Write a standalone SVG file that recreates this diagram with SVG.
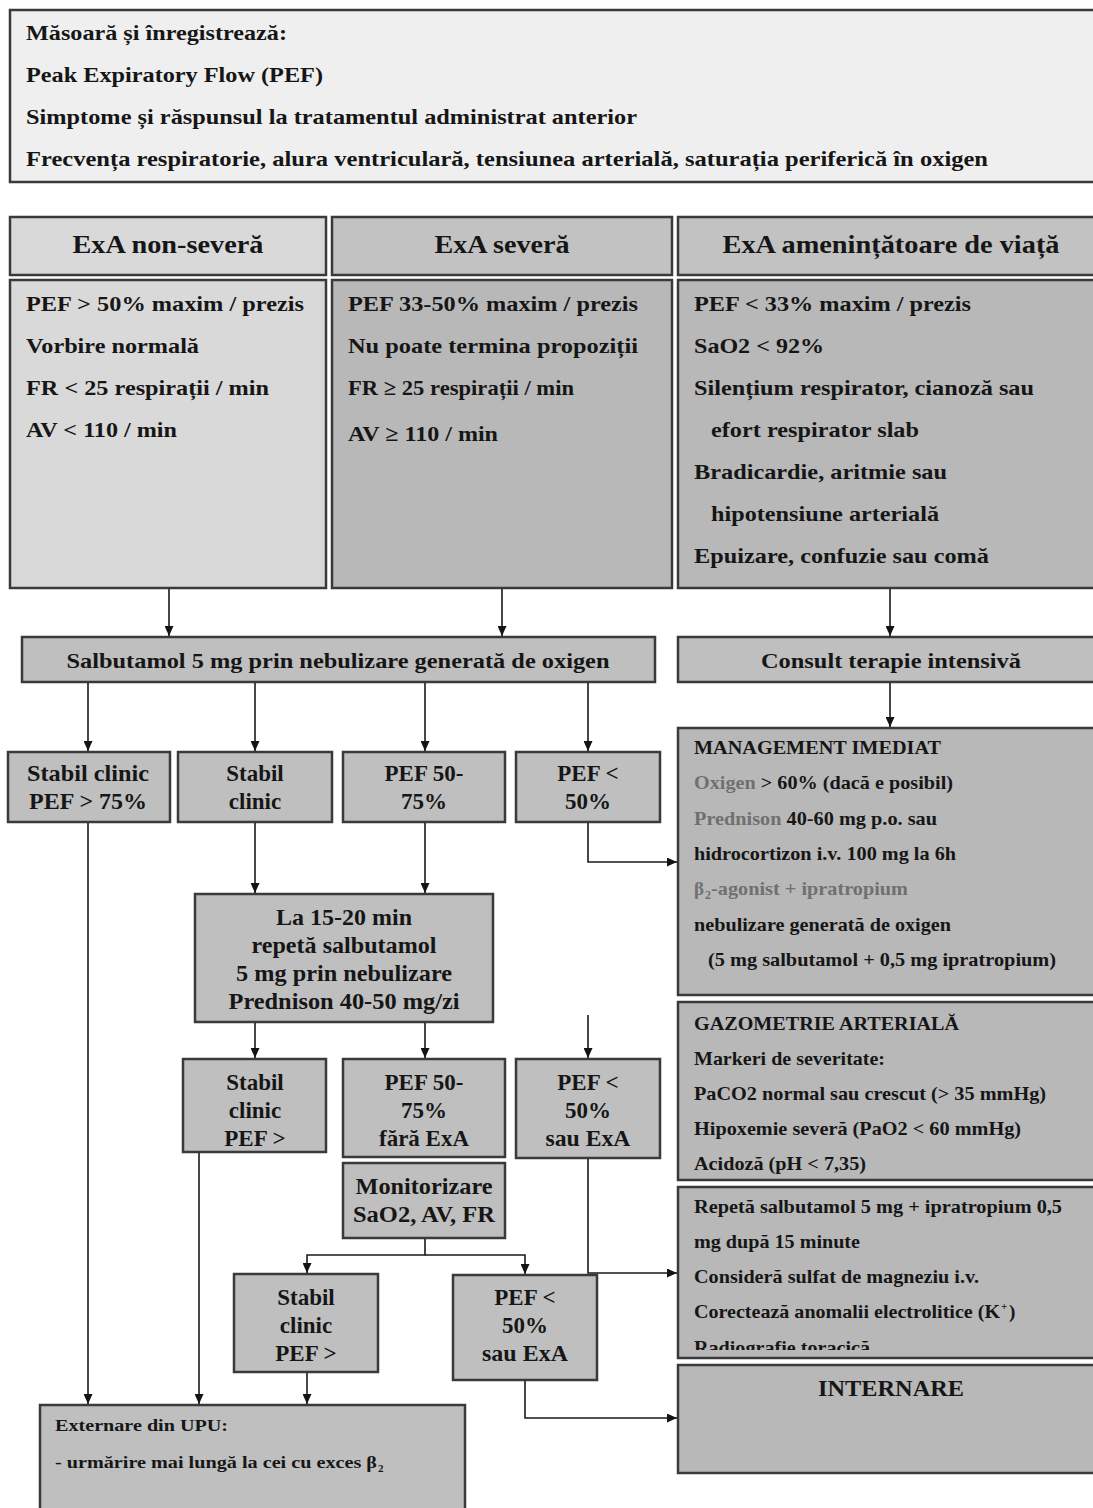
<svg xmlns="http://www.w3.org/2000/svg" width="1093" height="1508" viewBox="0 0 1093 1508">
<defs>
<marker id="ah" markerWidth="10" markerHeight="9" refX="10" refY="4.5" orient="auto" markerUnits="userSpaceOnUse">
<path d="M0,0 L10,4.5 L0,9 z" fill="#141414"/>
</marker>
<clipPath id="clipRep"><rect x="678" y="1187" width="420" height="163"/></clipPath>
</defs>
<style>
.box{stroke:#3a3a3a;stroke-width:2.5}
.t{font-family:"Liberation Serif","Times New Roman",serif;font-weight:bold;fill:#161616}
.f17{font-size:17px}
.f19{font-size:19px}
.f21{font-size:21px}
.f22{font-size:22px}
.f23{font-size:23px}
.f26{font-size:26px}
.c{text-anchor:middle}
.g{fill:#707070}
.l1{fill:#efefef}
.l2{fill:#d9d9d9}
.l3{fill:#c2c2c2}
.l4{fill:#b8b8b8}
.l5{fill:#bfbfbf}
#connectors path{fill:none;stroke:#1a1a1a;stroke-width:1.6}
</style>
<rect width="1093" height="1508" fill="#ffffff"/>

<g id="measure">
<rect class="box l1" x="10" y="10" width="1090" height="172"/>
<text class="t f21" x="26" y="40" textLength="261" lengthAdjust="spacingAndGlyphs">Măsoară și înregistrează:</text>
<text class="t f21" x="26" y="82" textLength="297" lengthAdjust="spacingAndGlyphs">Peak Expiratory Flow (PEF)</text>
<text class="t f21" x="26" y="124" textLength="611" lengthAdjust="spacingAndGlyphs">Simptome și răspunsul la tratamentul administrat anterior</text>
<text class="t f21" x="26" y="166" textLength="962" lengthAdjust="spacingAndGlyphs">Frecvența respiratorie,  alura ventriculară, tensiunea arterială, saturația periferică în oxigen</text>
</g>

<g id="hdr-nonsevere">
<rect class="box l2" x="10" y="217" width="316" height="58"/>
<text class="t f26 c" x="168" y="253" textLength="191" lengthAdjust="spacingAndGlyphs">ExA non-severă</text>
</g>
<g id="hdr-severe">
<rect class="box l3" x="332" y="217" width="340" height="58"/>
<text class="t f26 c" x="502" y="253" textLength="135" lengthAdjust="spacingAndGlyphs">ExA severă</text>
</g>
<g id="hdr-life">
<rect class="box l3" x="678" y="217" width="420" height="58"/>
<text class="t f26 c" x="891" y="253" textLength="337" lengthAdjust="spacingAndGlyphs">ExA amenințătoare de viață</text>
</g>

<g id="body-nonsevere">
<rect class="box l2" x="10" y="280" width="316" height="308"/>
<text class="t f22" x="26" y="311" textLength="278" lengthAdjust="spacingAndGlyphs">PEF &gt; 50% maxim / prezis</text>
<text class="t f22" x="26" y="353" textLength="173" lengthAdjust="spacingAndGlyphs">Vorbire normală</text>
<text class="t f22" x="26" y="395" textLength="243" lengthAdjust="spacingAndGlyphs">FR &lt; 25 respirații / min</text>
<text class="t f22" x="26" y="437" textLength="151" lengthAdjust="spacingAndGlyphs">AV &lt; 110 / min</text>
</g>
<g id="body-severe">
<rect class="box l4" x="332" y="280" width="340" height="308"/>
<text class="t f22" x="348" y="311" textLength="290" lengthAdjust="spacingAndGlyphs">PEF 33-50% maxim / prezis</text>
<text class="t f22" x="348" y="353" textLength="290" lengthAdjust="spacingAndGlyphs">Nu poate termina propoziții</text>
<text class="t f22" x="348" y="395" textLength="226" lengthAdjust="spacingAndGlyphs">FR ≥ 25 respirații / min</text>
<text class="t f22" x="348" y="441" textLength="150" lengthAdjust="spacingAndGlyphs">AV ≥ 110 / min</text>
</g>
<g id="body-life">
<rect class="box l4" x="678" y="280" width="420" height="308"/>
<text class="t f22" x="694" y="311" textLength="277" lengthAdjust="spacingAndGlyphs">PEF &lt; 33% maxim / prezis</text>
<text class="t f22" x="694" y="353" textLength="130" lengthAdjust="spacingAndGlyphs">SaO2 &lt; 92%</text>
<text class="t f22" x="694" y="395" textLength="340" lengthAdjust="spacingAndGlyphs">Silențium respirator, cianoză sau</text>
<text class="t f22" x="711" y="437" textLength="208" lengthAdjust="spacingAndGlyphs">efort respirator slab</text>
<text class="t f22" x="694" y="479" textLength="253" lengthAdjust="spacingAndGlyphs">Bradicardie, aritmie sau</text>
<text class="t f22" x="711" y="521" textLength="228" lengthAdjust="spacingAndGlyphs">hipotensiune arterială</text>
<text class="t f22" x="694" y="563" textLength="295" lengthAdjust="spacingAndGlyphs">Epuizare, confuzie sau comă</text>
</g>

<g id="salbutamol">
<rect class="box l5" x="22" y="637" width="633" height="45"/>
<text class="t f22 c" x="338" y="668" textLength="543" lengthAdjust="spacingAndGlyphs">Salbutamol 5 mg prin nebulizare generată de oxigen</text>
</g>
<g id="consult">
<rect class="box l5" x="678" y="637" width="420" height="45"/>
<text class="t f22 c" x="891" y="668" textLength="260" lengthAdjust="spacingAndGlyphs">Consult terapie intensivă</text>
</g>

<g id="r1-stable75">
<rect class="box l5" x="8" y="752" width="162" height="70"/>
<text class="t f23 c" x="88" y="781" textLength="122" lengthAdjust="spacingAndGlyphs">Stabil clinic</text>
<text class="t f23 c" x="88" y="809" textLength="118" lengthAdjust="spacingAndGlyphs">PEF &gt; 75%</text>
</g>
<g id="r1-stable">
<rect class="box l5" x="178" y="752" width="154" height="70"/>
<text class="t f23 c" x="255" y="781">Stabil</text>
<text class="t f23 c" x="255" y="809">clinic</text>
</g>
<g id="r1-pef5075">
<rect class="box l5" x="343" y="752" width="162" height="70"/>
<text class="t f23 c" x="424" y="781">PEF 50-</text>
<text class="t f23 c" x="424" y="809">75%</text>
</g>
<g id="r1-pef50">
<rect class="box l5" x="516" y="752" width="144" height="70"/>
<text class="t f23 c" x="588" y="781">PEF &lt;</text>
<text class="t f23 c" x="588" y="809">50%</text>
</g>

<g id="management">
<rect class="box l4" x="678" y="728" width="420" height="267"/>
<text class="t f19" x="694" y="754" textLength="247" lengthAdjust="spacingAndGlyphs">MANAGEMENT IMEDIAT</text>
<text class="t f19" x="694" y="789" textLength="259" lengthAdjust="spacingAndGlyphs"><tspan class="g">Oxigen</tspan> &gt; 60% (dacă e posibil)</text>
<text class="t f19" x="694" y="825" textLength="243" lengthAdjust="spacingAndGlyphs"><tspan class="g">Prednison</tspan> 40-60 mg p.o. sau</text>
<text class="t f19" x="694" y="860" textLength="262" lengthAdjust="spacingAndGlyphs">hidrocortizon i.v. 100 mg la 6h</text>
<text class="t f19 g" x="694" y="895">β</text>
<text class="t g" font-size="12" x="705" y="899">2</text>
<text class="t f19 g" x="711" y="895" textLength="197" lengthAdjust="spacingAndGlyphs">-agonist + ipratropium</text>
<text class="t f19" x="694" y="931" textLength="257" lengthAdjust="spacingAndGlyphs">nebulizare generată de oxigen</text>
<text class="t f19" x="708" y="966" textLength="348" lengthAdjust="spacingAndGlyphs">(5 mg salbutamol + 0,5 mg ipratropium)</text>
</g>

<g id="repeat">
<rect class="box l5" x="195" y="894" width="298" height="128"/>
<text class="t f23 c" x="344" y="925" textLength="136" lengthAdjust="spacingAndGlyphs">La 15-20 min</text>
<text class="t f23 c" x="344" y="953" textLength="185" lengthAdjust="spacingAndGlyphs">repetă salbutamol</text>
<text class="t f23 c" x="344" y="981" textLength="216" lengthAdjust="spacingAndGlyphs">5 mg prin nebulizare</text>
<text class="t f23 c" x="344" y="1009" textLength="231" lengthAdjust="spacingAndGlyphs">Prednison 40-50 mg/zi</text>
</g>

<g id="r2-stable">
<rect class="box l5" x="183" y="1059" width="143" height="93"/>
<text class="t f23 c" x="255" y="1090">Stabil</text>
<text class="t f23 c" x="255" y="1118">clinic</text>
<text class="t f23 c" x="255" y="1146">PEF &gt;</text>
</g>
<g id="r2-pef5075">
<rect class="box l5" x="343" y="1059" width="162" height="98"/>
<text class="t f23 c" x="424" y="1090">PEF 50-</text>
<text class="t f23 c" x="424" y="1118">75%</text>
<text class="t f23 c" x="424" y="1146" textLength="90" lengthAdjust="spacingAndGlyphs">fără ExA</text>
</g>
<g id="r2-pef50">
<rect class="box l5" x="516" y="1059" width="144" height="99"/>
<text class="t f23 c" x="588" y="1090">PEF &lt;</text>
<text class="t f23 c" x="588" y="1118">50%</text>
<text class="t f23 c" x="588" y="1146" textLength="85" lengthAdjust="spacingAndGlyphs">sau ExA</text>
</g>
<g id="monitor">
<rect class="box l5" x="343" y="1163" width="162" height="75"/>
<text class="t f23 c" x="424" y="1194" textLength="137" lengthAdjust="spacingAndGlyphs">Monitorizare</text>
<text class="t f23 c" x="424" y="1222" textLength="142" lengthAdjust="spacingAndGlyphs">SaO2, AV, FR</text>
</g>

<g id="r3-stable">
<rect class="box l5" x="234" y="1274" width="144" height="98"/>
<text class="t f23 c" x="306" y="1305">Stabil</text>
<text class="t f23 c" x="306" y="1333">clinic</text>
<text class="t f23 c" x="306" y="1361">PEF &gt;</text>
</g>
<g id="r3-pef50">
<rect class="box l5" x="453" y="1275" width="144" height="105"/>
<text class="t f23 c" x="525" y="1305">PEF &lt;</text>
<text class="t f23 c" x="525" y="1333">50%</text>
<text class="t f23 c" x="525" y="1361" textLength="86" lengthAdjust="spacingAndGlyphs">sau ExA</text>
</g>

<g id="discharge">
<rect class="box l5" x="40" y="1405" width="425" height="115"/>
<text class="t f17" x="55" y="1431" textLength="173" lengthAdjust="spacingAndGlyphs">Externare din UPU:</text>
<text class="t f17" x="55" y="1468" textLength="322" lengthAdjust="spacingAndGlyphs">- urmărire mai lungă la cei cu exces β</text>
<text class="t" font-size="11" x="378" y="1472">2</text>
</g>

<g id="gasometry">
<rect class="box l4" x="678" y="1002" width="420" height="178"/>
<text class="t f19" x="694" y="1030" textLength="265" lengthAdjust="spacingAndGlyphs">GAZOMETRIE ARTERIALĂ</text>
<text class="t f19" x="694" y="1065" textLength="191" lengthAdjust="spacingAndGlyphs">Markeri de severitate:</text>
<text class="t f19" x="694" y="1100" textLength="352" lengthAdjust="spacingAndGlyphs">PaCO2 normal sau crescut (&gt; 35 mmHg)</text>
<text class="t f19" x="694" y="1135" textLength="327" lengthAdjust="spacingAndGlyphs">Hipoxemie severă (PaO2 &lt; 60 mmHg)</text>
<text class="t f19" x="694" y="1170" textLength="172" lengthAdjust="spacingAndGlyphs">Acidoză (pH &lt; 7,35)</text>
</g>

<g id="repeat-ipra">
<rect class="box l4" x="678" y="1187" width="420" height="171"/>
<text class="t f19" x="694" y="1213" textLength="368" lengthAdjust="spacingAndGlyphs">Repetă salbutamol 5 mg + ipratropium 0,5</text>
<text class="t f19" x="694" y="1248" textLength="166" lengthAdjust="spacingAndGlyphs">mg după 15 minute</text>
<text class="t f19" x="694" y="1283" textLength="285" lengthAdjust="spacingAndGlyphs">Consideră sulfat de magneziu i.v.</text>
<text class="t f19" x="694" y="1318" textLength="306" lengthAdjust="spacingAndGlyphs">Corectează anomalii electrolitice (K</text>
<text class="t" font-size="11" x="1001" y="1310">+</text>
<text class="t f19" x="1009" y="1318">)</text>
<text class="t f19" x="694" y="1354" clip-path="url(#clipRep)" textLength="176" lengthAdjust="spacingAndGlyphs">Radiografie toracică</text>
</g>

<g id="admission">
<rect class="box l4" x="678" y="1365" width="420" height="108"/>
<text class="t f23 c" x="891" y="1396" textLength="146" lengthAdjust="spacingAndGlyphs">INTERNARE</text>
</g>

<g id="connectors">
<path d="M169 589 V636" marker-end="url(#ah)"/>
<path d="M502 589 V636" marker-end="url(#ah)"/>
<path d="M890 589 V636" marker-end="url(#ah)"/>
<path d="M88 683 V751" marker-end="url(#ah)"/>
<path d="M255 683 V751" marker-end="url(#ah)"/>
<path d="M425 683 V751" marker-end="url(#ah)"/>
<path d="M588 683 V751" marker-end="url(#ah)"/>
<path d="M890 683 V727" marker-end="url(#ah)"/>
<path d="M588 823 V862 H677" marker-end="url(#ah)"/>
<path d="M88 823 V1404" marker-end="url(#ah)"/>
<path d="M255 823 V893" marker-end="url(#ah)"/>
<path d="M425 823 V893" marker-end="url(#ah)"/>
<path d="M255 1023 V1058" marker-end="url(#ah)"/>
<path d="M425 1023 V1058" marker-end="url(#ah)"/>
<path d="M588 1015 V1058" marker-end="url(#ah)"/>
<path d="M199 1153 V1404" marker-end="url(#ah)"/>
<path d="M588 1159 V1273 H677" marker-end="url(#ah)"/>
<path d="M425 1239 V1255 H307 V1273" marker-end="url(#ah)"/>
<path d="M425 1255 H525 V1274" marker-end="url(#ah)"/>
<path d="M307 1373 V1404" marker-end="url(#ah)"/>
<path d="M525 1381 V1418 H677" marker-end="url(#ah)"/>
</g>
</svg>
